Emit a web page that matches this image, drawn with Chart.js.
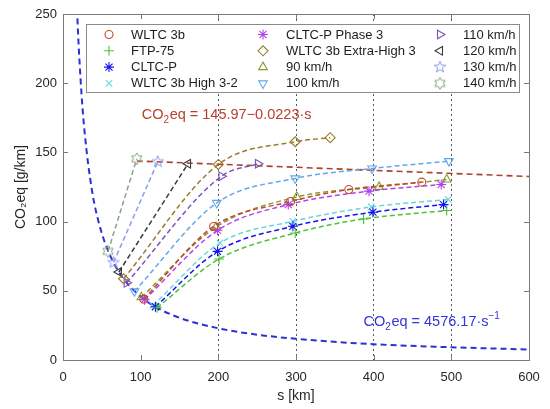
<!DOCTYPE html>
<html>
<head>
<meta charset="utf-8">
<script src="https://cdn.jsdelivr.net/npm/chart.js@4.4.1/dist/chart.umd.min.js"></script>
<style>
  html, body { margin: 0; padding: 0; background: #fff; }
</style>
</head>
<body>
<canvas id="chart" width="550" height="409"></canvas>
<script>
'use strict';

// axes
const sTicks = [ 0, 100, 200, 300, 400, 500, 600 ];
const co2Ticks = [ 0, 50, 100, 150, 200, 250 ];
const refLines = [ 200, 300, 400, 500 ];

// measured points: range s [km] and CO2eq [g/km]
const wltcS = [ 104, 194, 293, 368, 462 ];
const wltcCO2 = [ 44.0, 96.5, 114.5, 123.2, 128.5 ];
const ftpS = [ 121, 201, 299, 387, 494 ];
const ftpCO2 = [ 37.8, 73.0, 91.8, 101.9, 108.0 ];
const cltcS = [ 119, 199, 296, 399, 490 ];
const cltcCO2 = [ 38.5, 78.5, 96.6, 106.8, 112.3 ];
const high32S = [ 116, 202, 296, 397, 496 ];
const high32CO2 = [ 39.4, 84.5, 100.2, 110.6, 116.0 ];
const cltcP3S = [ 105, 199, 290, 394, 487 ];
const cltcP3CO2 = [ 43.6, 93.7, 112.3, 122.0, 126.8 ];
const extraHighS = [ 78, 200, 299, 344 ];
const extraHighCO2 = [ 58.7, 141.3, 157.7, 160.6 ];
const v90S = [ 101, 197, 301, 407, 494 ];
const v90CO2 = [ 45.3, 96.0, 117.8, 125.1, 130.4 ];
const v100S = [ 92, 198, 299, 398, 497 ];
const v100CO2 = [ 49.7, 113.5, 131.2, 138.4, 143.7 ];
const v110S = [ 82, 204, 251 ];
const v110CO2 = [ 55.8, 132.8, 141.8 ];
const v120S = [ 72, 161 ];
const v120CO2 = [ 63.6, 141.8 ];
const v130S = [ 65, 122 ];
const v130CO2 = [ 70.4, 143.3 ];
const v140S = [ 58, 95 ];
const v140CO2 = [ 78.5, 145.4 ];

// fitted curves
const hypS = [ 18, 20, 25, 30, 35, 40, 50, 60, 70, 80, 100, 120, 150, 200, 250, 300, 400, 500, 600 ];
const hypCO2 = [ 254, 229, 183, 153, 131, 114, 91.5, 76.3, 65.4, 57.2, 45.8, 38.1, 30.5, 22.9, 18.3, 15.3, 11.4, 9.2, 7.6 ];
const linS = [ 95, 600 ];
const linCO2 = [ 143.8, 132.6 ];

const seriesLabels = [
    'WLTC 3b', 'FTP-75', 'CLTC-P', 'WLTC 3b High 3-2',
    'CLTC-P Phase 3', 'WLTC 3b Extra-High 3', '90 km/h', '100 km/h',
    '110 km/h', '120 km/h', '130 km/h', '140 km/h'
];
const seriesS = [ wltcS, ftpS, cltcS, high32S, cltcP3S, extraHighS, v90S, v100S, v110S, v120S, v130S, v140S ];
const seriesCO2 = [ wltcCO2, ftpCO2, cltcCO2, high32CO2, cltcP3CO2, extraHighCO2, v90CO2, v100CO2, v110CO2, v120CO2, v130CO2, v140CO2 ];

// star-shaped markers Chart.js does not ship
function starMarker ( color, points, outer, inner )
{
    const c = document.createElement( 'canvas' );
    c.width = 14;
    c.height = 14;
    const g = c.getContext( '2d' );
    g.strokeStyle = color;
    g.lineWidth = 1;
    g.beginPath();
    for ( let i = 0; i < points * 2; i++ )
    {
        const r = i % 2 === 0 ? outer : inner;
        const a = -Math.PI / 2 + i * Math.PI / points;
        const px = 7 + r * Math.cos( a ), py = 7 + r * Math.sin( a );
        if ( i === 0 ) g.moveTo( px, py ); else g.lineTo( px, py );
    }
    g.closePath();
    g.stroke();
    return c;
}

const markers = [
    { color: '#bf4a2c', style: 'circle', rot: 0, r: 4 },
    { color: '#4cc23a', style: 'cross', rot: 0, r: 5 },
    { color: '#1414ee', style: 'star', rot: 0, r: 5 },
    { color: '#66d6e0', style: 'crossRot', rot: 0, r: 4.5 },
    { color: '#b043f0', style: 'star', rot: 0, r: 5 },
    { color: '#9b7a2c', style: 'rectRot', rot: 0, r: 5 },
    { color: '#8a9a30', style: 'triangle', rot: 0, r: 5 },
    { color: '#64a6ea', style: 'triangle', rot: 180, r: 5 },
    { color: '#7a55b5', style: 'triangle', rot: 90, r: 5 },
    { color: '#3a3a3a', style: 'triangle', rot: -90, r: 5 },
    { color: '#8b9df0', style: null, rot: 0, r: 5 },
    { color: '#86a486', style: null, rot: 0, r: 5 }
];
markers[ 10 ].style = starMarker( markers[ 10 ].color, 5, 6, 2.5 );
markers[ 11 ].style = starMarker( markers[ 11 ].color, 6, 6, 3.4 );

const datasets = seriesLabels.map( ( label, i ) =>
{
    const m = markers[ i ];
    return {
        label,
        data: seriesS[ i ].map( ( s, k ) => ( { x: s, y: seriesCO2[ i ][ k ] } ) ),
        showLine: true,
        borderColor: m.color,
        borderWidth: 1.5,
        borderDash: [ 5, 3 ],
        cubicInterpolationMode: 'monotone',
        pointStyle: m.style,
        pointRotation: m.rot,
        pointRadius: m.r,
        pointHoverRadius: m.r,
        pointBorderWidth: 1.1,
        pointBorderColor: m.color,
        pointBackgroundColor: 'rgba(0,0,0,0)'
    };
} );

datasets.push( {
    label: 'hyperbolic fit',
    data: hypS.map( ( s, k ) => ( { x: s, y: hypCO2[ k ] } ) ),
    showLine: true,
    borderColor: '#2f2fd6',
    borderWidth: 2,
    borderDash: [ 6, 4 ],
    cubicInterpolationMode: 'monotone',
    pointRadius: 0
} );
datasets.push( {
    label: 'linear fit',
    data: linS.map( ( s, k ) => ( { x: s, y: linCO2[ k ] } ) ),
    showLine: true,
    borderColor: '#a8432c',
    borderWidth: 1.6,
    borderDash: [ 6, 4 ],
    pointRadius: 0
} );

const FONT = "'Liberation Sans', Arial, sans-serif";
const fitNotes = [
    { parts: [ 'CO', '2', 'eq = 145.97\u22120.0223\u00b7s' ], s: 101.5, co2: 176.8, color: '#b8402c' },
    { parts: [ 'CO', '2', 'eq = 4576.17\u00b7s', '\u22121' ], s: 387, co2: 27.3, color: '#3434d8' }
];

// MATLAB-like box with inward ticks, fit labels, boxed 3-column legend
const decorPlugin = {
    id: 'decor',
    afterDatasetsDraw ( chart )
    {
        const { ctx, chartArea: a, scales } = chart;
        ctx.save();
        ctx.strokeStyle = '#7a7a7a';
        ctx.lineWidth = 1;
        ctx.strokeRect( Math.round( a.left ) + 0.5, Math.round( a.top ) + 0.5, Math.round( a.width ), Math.round( a.height ) );
        ctx.beginPath();
        sTicks.forEach( v =>
        {
            const px = Math.round( scales.x.getPixelForValue( v ) ) + 0.5;
            ctx.moveTo( px, a.bottom ); ctx.lineTo( px, a.bottom - 5 );
            ctx.moveTo( px, a.top ); ctx.lineTo( px, a.top + 5 );
        } );
        co2Ticks.forEach( v =>
        {
            const py = Math.round( scales.y.getPixelForValue( v ) ) + 0.5;
            ctx.moveTo( a.left, py ); ctx.lineTo( a.left + 5, py );
            ctx.moveTo( a.right, py ); ctx.lineTo( a.right - 5, py );
        } );
        ctx.stroke();

        // fit equations
        ctx.textBaseline = 'middle';
        ctx.textAlign = 'left';
        fitNotes.forEach( n =>
        {
            let x = scales.x.getPixelForValue( n.s );
            const y = scales.y.getPixelForValue( n.co2 );
            ctx.fillStyle = n.color;
            n.parts.forEach( ( t, k ) =>
            {
                const small = k % 2 === 1;
                ctx.font = ( small ? 10 : 14.5 ) + 'px ' + FONT;
                const dy = !small ? 0 : ( k === 1 ? 5 : -6 );
                ctx.fillText( t, x, y + dy );
                x += ctx.measureText( t ).width + ( small ? 0.5 : 0 );
            } );
        } );

        // legend
        const box = { x: 86, y: 24, w: 433, h: 68 };
        ctx.fillStyle = '#ffffff';
        ctx.fillRect( box.x, box.y, box.w, box.h );
        ctx.strokeStyle = '#8a8a8a';
        ctx.strokeRect( box.x + 0.5, box.y + 0.5, box.w, box.h );
        const markX = [ 23, 177, 354 ];
        const textX = [ 45, 200, 377 ];
        ctx.font = '13px ' + FONT;
        seriesLabels.forEach( ( label, i ) =>
        {
            const col = Math.floor( i / 4 ), row = i % 4;
            const y = box.y + 10.5 + row * 16.3;
            const m = markers[ i ];
            ctx.strokeStyle = m.color;
            ctx.fillStyle = 'rgba(0,0,0,0)';
            ctx.lineWidth = 1.1;
            Chart.helpers.drawPoint( ctx, { pointStyle: m.style, rotation: m.rot, radius: m.r, borderWidth: 1.1 }, box.x + markX[ col ], y );
            ctx.fillStyle = '#1e1e1e';
            ctx.fillText( label, box.x + textX[ col ], y + 0.5 );
        } );
        ctx.restore();
    }
};

Chart.defaults.font.family = FONT;
Chart.defaults.color = '#262626';

new Chart( document.getElementById( 'chart' ), {
    type: 'scatter',
    data: { datasets },
    options: {
        responsive: false,
        animation: false,
        layout: { padding: { top: 14, right: 21, left: 0, bottom: 0 } },
        plugins: {
            legend: { display: false },
            tooltip: { enabled: false }
        },
        scales: {
            x: {
                type: 'linear',
                min: sTicks[ 0 ],
                max: sTicks[ sTicks.length - 1 ],
                afterBuildTicks: scale => { scale.ticks = sTicks.map( v => ( { value: v } ) ); },
                afterFit: scale => { scale.height = 49; },
                ticks: { font: { size: 13 }, padding: 10, color: '#262626', maxRotation: 0 },
                grid: {
                    drawTicks: false,
                    color: ctx => refLines.includes( ctx.tick && ctx.tick.value ) ? '#555555' : 'rgba(0,0,0,0)',
                    lineWidth: 1
                },
                border: { display: false, dash: [ 2, 3 ] },
                title: { display: true, text: 's [km]', font: { size: 14 }, color: '#262626', padding: 4 }
            },
            y: {
                type: 'linear',
                min: co2Ticks[ 0 ],
                max: co2Ticks[ co2Ticks.length - 1 ],
                afterBuildTicks: scale => { scale.ticks = co2Ticks.map( v => ( { value: v } ) ); },
                afterFit: scale => { scale.width = 63; },
                ticks: { font: { size: 13 }, padding: 6, color: '#262626' },
                grid: { display: false, drawTicks: false },
                border: { display: false },
                title: { display: true, text: 'CO\u2082eq [g/km]', font: { size: 14 }, color: '#262626', padding: 13 }
            }
        }
    },
    plugins: [ decorPlugin ]
} );
</script>
</body>
</html>
